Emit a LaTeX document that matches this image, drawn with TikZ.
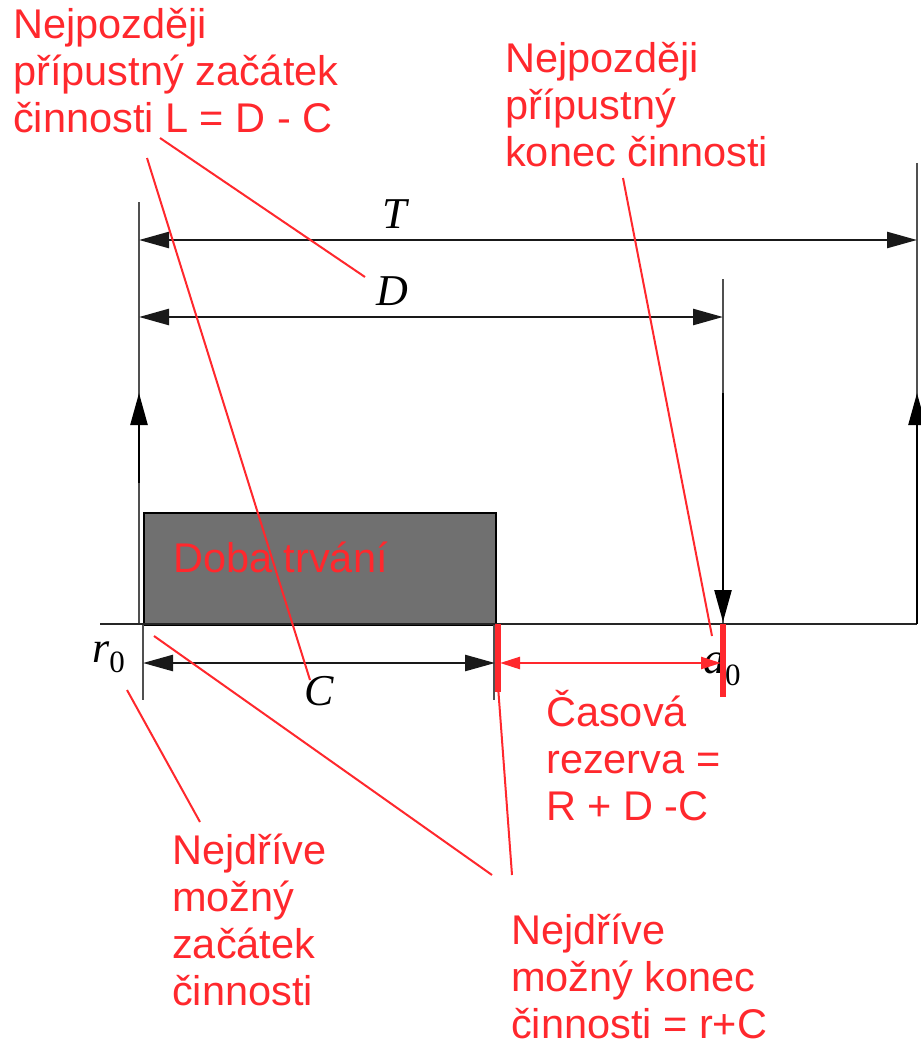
\documentclass[tikz,border=0pt]{standalone}
\usepackage{fontspec}
\setmainfont{Liberation Sans}
\newfontfamily\tms{Liberation Serif}
\usetikzlibrary{arrows.meta}
\definecolor{lblred}{RGB}{255,40,45}
\definecolor{boxgray}{RGB}{112,112,112}
\definecolor{thingray}{RGB}{80,80,80}
\tikzset{
  lbl/.style={font=\fontsize{41.5}{47}\selectfont, text=lblred, align=left, inner sep=0pt, anchor=base west},
  mlbl/.style={font=\tms\itshape\fontsize{44}{44}\selectfont, inner sep=0pt, anchor=base},
  guide/.style={draw=thingray, line width=1.5pt},
  baseline/.style={draw=black!85, line width=2pt},
  dimline/.style={draw=black!90, line width=2.5pt, {Triangle[length=30pt,width=16pt]}-{Triangle[length=30pt,width=16pt]}},
  vecline/.style={draw=black, line width=2.5pt, -{Triangle[length=32pt,width=17pt]}},
  reddim/.style={draw=lblred, line width=2.5pt, {Triangle[length=20pt,width=12pt]}-{Triangle[length=20pt,width=12pt]}},
  redtick/.style={draw=lblred, line width=6pt},
  leader/.style={draw=lblred, line width=2pt},
  taskbox/.style={fill=boxgray, draw=black, line width=2pt, inner sep=0pt, anchor=north west, minimum width=352pt, minimum height=112pt}
}
\begin{document}
\begin{tikzpicture}[x=1pt,y=-1pt]
\useasboundingbox (0,0) rectangle (920,1043);

% task box
\node[taskbox] (box) at (143,512) {};

% guides
\coordinate (gL1) at (139,202); \coordinate (gL2) at (139,624);
\coordinate (gR1) at (917,163); \coordinate (gR2) at (917,624);
\coordinate (gA1) at (723,279); \coordinate (gA2) at (723,624);
\coordinate (gr1) at (143,624); \coordinate (gr2) at (143,700);
\coordinate (gc1) at (494,624); \coordinate (gc2) at (494,700);
\coordinate (b1) at (100,624);  \coordinate (b2) at (917,624);
\draw[guide] (gL1) -- (gL2);
\draw[guide] (gR1) -- (gR2);
\draw[guide] (gA1) -- (gA2);
\draw[guide] (gr1) -- (gr2);
\draw[guide] (gc1) -- (gc2);
\draw[baseline] (b1) -- (b2);

% dimension arrows
\coordinate (tA) at (139,240); \coordinate (tB) at (917,240);
\coordinate (dA) at (139,317); \coordinate (dB) at (723,317);
\coordinate (cA) at (143,663); \coordinate (cB) at (495,663);
\draw[dimline] (tA) -- (tB);
\draw[dimline] (dA) -- (dB);
\draw[dimline] (cA) -- (cB);

% vertical vectors
\coordinate (uL1) at (139,483); \coordinate (uL2) at (139,393);
\coordinate (uR1) at (917,624); \coordinate (uR2) at (917,393);
\coordinate (dn1) at (723,393); \coordinate (dn2) at (723,622);
\draw[vecline] (uL1) -- (uL2);
\draw[vecline] (uR1) -- (uR2);
\draw[vecline] (dn1) -- (dn2);

% math labels
\node[mlbl] (lblT) at (395,228) {T};
\node[mlbl] (lblD) at (392,305) {D};
\node[mlbl] (lblC) at (319,705) {C};
\node[mlbl, anchor=base west] (lblr) at (92,662) {r\raisebox{-10pt}{\upshape\fontsize{31}{31}\selectfont 0}};
\node[mlbl, anchor=base west] (lbla) at (703,673) {a\raisebox{-12pt}{\upshape\fontsize{31}{31}\selectfont 0}};

% red slack marks
\coordinate (s1a) at (498,624); \coordinate (s1b) at (498,692);
\coordinate (s2a) at (723,624); \coordinate (s2b) at (723,697);
\coordinate (sA) at (500,663); \coordinate (sB) at (721,663);
\draw[redtick] (s1a) -- (s1b);
\draw[redtick] (s2a) -- (s2b);
\draw[reddim] (sA) -- (sB);

% red labels (anchor = baseline of last line)
\node[lbl] (lateStart) at (13,133) {Nejpozději\\přípustný začátek\\činnosti L = D - C};
\node[lbl] (lateEnd) at (505,167) {Nejpozději\\přípustný\\konec činnosti};
\node[lbl] (duration) at (173,572) {Doba trvání};
\node[lbl] (slack) at (546,820) {Časová\\rezerva =\\R + D -C};
\node[lbl] (earlyEnd) at (511,1038) {Nejdříve\\možný konec\\činnosti = r+C};
\node[lbl] (earlyStart) at (172,1005) {Nejdříve\\možný\\začátek\\činnosti};

% leaders
\coordinate (l1a) at (160,138); \coordinate (l1b) at (365,277);
\coordinate (l2a) at (147,158); \coordinate (l2b) at (310,680);
\coordinate (l3a) at (623,178); \coordinate (l3b) at (712,636);
\coordinate (l4a) at (154,636); \coordinate (l4b) at (492,875);
\coordinate (l5a) at (498,686); \coordinate (l5b) at (512,875);
\coordinate (l6a) at (127,690); \coordinate (l6b) at (200,822);
\draw[leader] (l1a) -- (l1b);
\draw[leader] (l2a) -- (l2b);
\draw[leader] (l3a) -- (l3b);
\draw[leader] (l4a) -- (l4b);
\draw[leader] (l5a) -- (l5b);
\draw[leader] (l6a) -- (l6b);
\end{tikzpicture}
\end{document}
